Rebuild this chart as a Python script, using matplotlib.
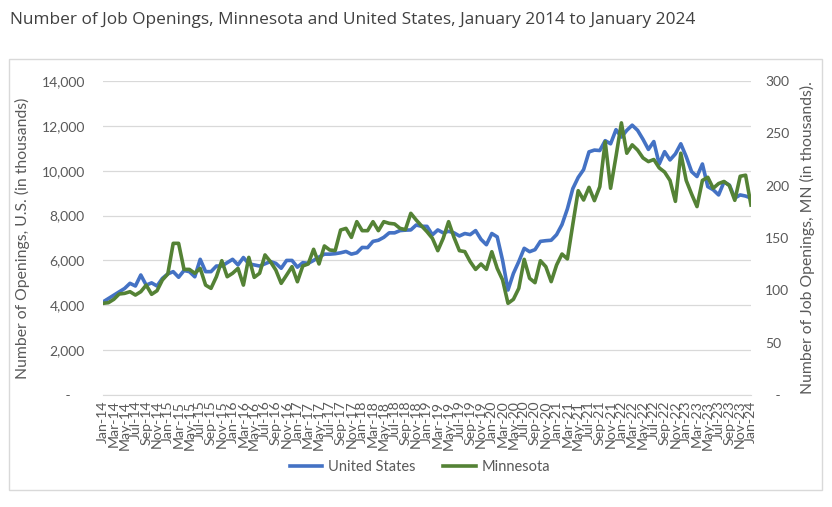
import matplotlib
matplotlib.use("Agg")
import matplotlib.pyplot as plt
from matplotlib.patches import Rectangle
import pandas as pd

months = pd.date_range("2014-01-01", "2024-01-01", freq="MS")
month_labels = [d.strftime("%b-%y") for d in months]

# job openings, U.S., thousands (left axis)
us_openings = [
    4150, 4300, 4450, 4600, 4750, 4980, 4860, 5350, 4900, 5000, 4860, 5200,
    5400, 5500, 5250, 5550, 5500, 5270, 6050, 5500, 5500, 5750, 5750, 5900,
    6050, 5800, 6130, 5850, 5800, 5750, 5850, 5950, 5870, 5650, 6000, 6000,
    5700, 5900, 5870, 6000, 6150, 6280, 6280, 6300, 6340, 6400, 6280, 6340,
    6580, 6570, 6850, 6900, 7030, 7230, 7230, 7330, 7350, 7360, 7580, 7520,
    7520, 7140, 7360, 7230, 7300, 7230, 7090, 7200, 7150, 7330, 6940, 6700,
    7200, 7050, 6000, 4680, 5420, 5950, 6540, 6390, 6480, 6850, 6880, 6900,
    7150, 7600, 8300, 9200, 9700, 10050, 10840, 10920, 10900, 11340, 11200, 11830,
    11500, 11800, 12030, 11800, 11400, 10950, 11300, 10300, 10850, 10480, 10750, 11200,
    10630, 9960, 9740, 10300, 9290, 9150, 8920, 9500, 9360, 8780, 8920, 8870,
    8780,
]

# job openings, Minnesota, thousands (right axis)
mn_openings = [
    87.6, 88.2, 91.4, 96.5, 97.1, 98.7, 95.5, 98.7, 105.0, 96.2, 99.6, 109.9,
    115.6, 144.9, 144.9, 120.0, 120.0, 116.3, 121.0, 105.0, 101.9, 113.0, 128.3, 113.0,
    116.3, 121.0, 105.0, 131.5, 112.4, 116.3, 133.8, 127.4, 119.4, 106.7, 114.6, 122.6,
    108.2, 123.3, 125.2, 139.2, 125.2, 142.4, 138.5, 138.0, 157.6, 159.2, 150.6, 165.6,
    157.0, 157.0, 165.6, 157.0, 165.6, 164.0, 163.4, 159.2, 158.0, 173.6, 167.2, 161.5,
    156.0, 149.7, 137.9, 149.7, 165.6, 150.6, 137.9, 137.0, 127.4, 120.0, 125.2, 120.0,
    136.9, 121.0, 109.9, 87.6, 91.4, 101.9, 129.6, 111.5, 107.3, 128.3, 122.6, 108.3,
    124.2, 134.7, 130.0, 163.0, 195.2, 186.3, 198.4, 185.7, 199.0, 242.0, 197.5, 228.0,
    260.0, 231.0, 239.0, 234.0, 226.5, 223.0, 225.0, 217.0, 213.0, 205.0, 185.0, 231.0,
    205.0, 192.0, 180.0, 205.0, 208.0, 197.5, 202.0, 204.0, 200.0, 186.0, 209.0, 210.0,
    181.5,
]

us_color = "#4472C4"
mn_color = "#548235"
text_color = "#595959"
grid_color = "#D9D9D9"

plt.rcParams["font.family"] = ["Lato", "DejaVu Sans"]

W, H = 832, 507
fig = plt.figure(figsize=(W / 100, H / 100), dpi=100)

# chart border
fig.patches.append(Rectangle((9 / W, 1 - 490 / H), 813 / W, 431 / H,
                             transform=fig.transFigure, fill=False,
                             edgecolor=grid_color, linewidth=1))

fig.text(10 / W, 1 - 20 / H,
         "Number of Job Openings, Minnesota and United States, January 2014 to January 2024",
         family="Open Sans", fontsize=12.4, color="#404040", va="center", ha="left")

ax = fig.add_axes([103 / W, 1 - 395 / H, 648 / W, 314 / H])
ax2 = ax.twinx()

x = list(range(len(months)))
ax.plot(x, us_openings, color=us_color, linewidth=2.6, label="United States",
        solid_joinstyle="round", zorder=3)
ax2.plot(x, mn_openings, color=mn_color, linewidth=2.6, label="Minnesota",
         solid_joinstyle="round", zorder=3)

ax.set_xlim(0, len(months) - 1)
ax.set_ylim(0, 14000)
ax2.set_ylim(0, 300)

left_ticks = list(range(0, 14001, 2000))
ax.set_yticks(left_ticks)
ax.set_yticklabels([" -    " if v == 0 else f"{v:,}" for v in left_ticks])
right_ticks = list(range(0, 301, 50))
ax2.set_yticks(right_ticks)
ax2.set_yticklabels(["   -" if v == 0 else str(v) for v in right_ticks])

ax.set_xticks(x[::2])
ax.set_xticklabels(month_labels[::2], rotation=90, color=text_color)

ax.grid(axis="y", color=grid_color, linewidth=0.9)
ax.set_axisbelow(True)
for a in (ax, ax2):
    for s in a.spines.values():
        s.set_visible(False)
    a.tick_params(length=0, labelsize=10, labelcolor=text_color)
ax.tick_params(axis="y", pad=13)
ax2.tick_params(axis="y", pad=10)
ax.tick_params(axis="x", pad=4, labelsize=10.2)
ax.spines["bottom"].set_visible(True)
ax.spines["bottom"].set_color(grid_color)

ax.set_ylabel("Number of Openings, U.S. (in thousands)", fontsize=11.3,
              color=text_color, labelpad=8)
ax2.set_ylabel("Number of Job Openings, MN (in thousands).", fontsize=11.3,
               color=text_color, labelpad=8)

h1, l1 = ax.get_legend_handles_labels()
h2, l2 = ax2.get_legend_handles_labels()
fig.legend(h1 + h2, l1 + l2, loc="center", bbox_to_anchor=(0.505, 1 - 467 / H),
           ncol=2, frameon=False, fontsize=10.5, labelcolor=text_color,
           handlelength=2.2, handletextpad=0.4, columnspacing=1.9)

fig.savefig("out.png", dpi=100)
